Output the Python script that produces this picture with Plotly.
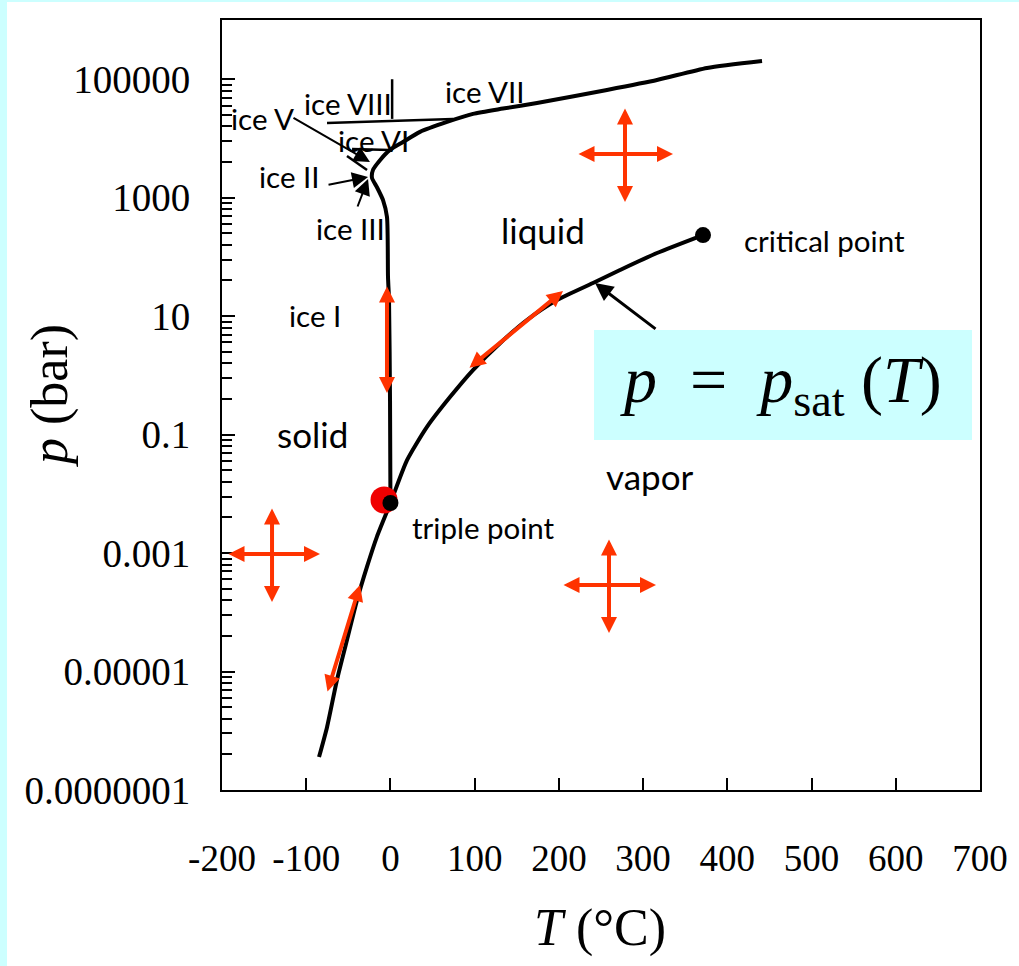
import math
import plotly.graph_objects as go

# ---------------- data (T in °C, p in bar) ----------------
# sublimation + vaporization curve, from its low end to the critical point
sat_T = [-84.8, -75.3, -63.5, -51.6, -39.7, -27.8, -16.0, 0.01, 19.7, 43.4, 70.7,
         98.0, 130.1, 162.1, 197.8, 240.5, 272.6, 316.5, 371.1]
sat_p = [3.6e-7, 1.15e-6, 7.2e-6, 3.4e-5, 1.6e-4, 5.9e-4, 1.9e-3, 0.007, 0.037,
         0.135, 0.43, 1.23, 3.5, 8.6, 18.7, 36.3, 60.1, 116.5, 234]

# melting curve (ice I / liquid, then high-pressure ices / liquid)
melt_T = [0.01, -0.5, -1.7, -2.9, -4.1, -8.8, -16.0, -21.9, -20.7, -12.4, -0.5,
          14.9, 35.1, 67.2, 98.0, 133.6, 174.0, 257.1, 316.5, 375.9, 441.2]
melt_p = [0.007, 0.38, 19, 46, 470, 910, 1500, 2150, 2950, 4300, 6400, 8700,
          12900, 19000, 26000, 32000, 39700, 66000, 97000, 155000, 203000]

# thin boundaries between the high-pressure ice phases
ice_T = [-75.3, 74.3, None, 2.0, 2.0, None, -45.6, -0.5, None, -51.6, -27.8]
ice_p = [18200, 21400, None, 21400, 100000, None, 6640, 6380, None, 5060, 2940]

triple_T, triple_p = [0.01], [0.007]
critical_T, critical_p = [371.1], [234]
marker_T, marker_p = [-7.6], [0.0079]          # red state marker at the triple point

# axis ticks
x_ticks = [-200, -100, 0, 100, 200, 300, 400, 500, 600, 700]
x_tick_text = ["-200", "-100", "0", "100", "200", "300", "400", "500", "600", "700"]
y_ticks = [1e-7, 1e-5, 1e-3, 0.1, 10, 1000, 1e5]
y_tick_text = ["0.0000001", "0.00001", "0.001", "0.1", "10", "1000", "100000"]
minor_decades = [-7, -5, -3, -1, 1, 3]
minor_k = [2, 3, 4, 5, 6, 7, 8, 9]

# region / phase labels: (text, T, p, big)
labels = [
    ("ice VII", 111.1, 60950, False),
    ("ice VIII", -50.4, 38190, False),
    ("ice V", -152.5, 21330, False),
    ("ice VI", -20.7, 9420, False),
    ("ice II", -119.3, 2323, False),
    ("ice III", -48.0, 307.6, False),
    ("ice I", -89.6, 10.07, False),
    ("triple point", 109.9, 0.00275, False),
    ("critical point", 514.8, 185.8, False),
    ("liquid", 181.1, 285, True),
    ("solid", -92.0, 0.102, True),
    ("vapor", 308.2, 0.020, True),
]

# black pointer arrows: (T_tail, p_tail, T_head, p_head, width)
pointer_arrows = [
    (-116.9, 23010, -24.3, 4009, 2),
    (-75.3, 1637, -26.6, 2234, 2),
    (-39.7, 670, -26.6, 2065, 2),
    (316.5, 5.83, 242.9, 36.3, 3),
]

# red double-headed arrows: (T1, p1, T2, p2)
red_arrows = [
    (221.5, 5470, 335.5, 5470), (278.5, 33960, 278.5, 845),
    (-194.1, 9.64e-4, -83.6, 9.64e-4), (-140.6, 6.0e-3, -140.6, 1.49e-4),
    (203.7, 2.89e-4, 315.3, 2.89e-4), (259.5, 1.80e-3, 259.5, 4.48e-5),
    (-4.1, 33.6, -4.1, 0.505),
    (92.1, 1.28, 204.9, 26.6),
    (-75.3, 4.35e-6, -36.1, 2.89e-4),
]

# equation box extent (T range, p range) and text anchor
eq_box_T = [241.7, 690.5]
eq_box_p = [0.0813, 5.83]
eq_text_T, eq_text_p = 463.7, 0.689

# ---------------- styling ----------------
SERIF = "Liberation Serif, Times New Roman, serif"
SANS = "Lato, Calibri, Carlito, sans-serif"
RED = "#FF3300"
CYAN = "#CCFFFF"
W, H = 1019, 966
ML, MR, MT, MB = 222, 39, 20, 176

minor_vals = [k * k * 10 ** d for d in minor_decades for k in minor_k]

fig = go.Figure()

fig.add_trace(go.Scatter(x=ice_T, y=ice_p, mode="lines",
                         line=dict(color="black", width=2.5), hoverinfo="skip",
                         showlegend=False))
fig.add_trace(go.Scatter(x=melt_T, y=melt_p, mode="lines",
                         line=dict(color="black", width=4, shape="spline", smoothing=0.6),
                         showlegend=False))
fig.add_trace(go.Scatter(x=sat_T, y=sat_p, mode="lines",
                         line=dict(color="black", width=4, shape="spline", smoothing=0.6),
                         showlegend=False))
fig.add_trace(go.Scatter(x=marker_T, y=marker_p, mode="markers",
                         marker=dict(color="#F00000", size=27), showlegend=False))
fig.add_trace(go.Scatter(x=triple_T, y=triple_p, mode="markers",
                         marker=dict(color="black", size=16), showlegend=False))
fig.add_trace(go.Scatter(x=critical_T, y=critical_p, mode="markers",
                         marker=dict(color="black", size=16), showlegend=False))

annotations = []
for text, t, p, big in labels:
    annotations.append(dict(x=t, y=math.log10(p), xref="x", yref="y", text=text,
                            showarrow=False, xanchor="center", yanchor="middle",
                            font=dict(family=SANS, size=35 if big else 29.5, color="black")))

for t0, p0, t1, p1, w in pointer_arrows:
    annotations.append(dict(x=t1, y=math.log10(p1), ax=t0, ay=math.log10(p0),
                            xref="x", yref="y", axref="x", ayref="y", text="",
                            showarrow=True, arrowhead=2, arrowsize=1.6 if w == 2 else 1.2,
                            arrowwidth=w, arrowcolor="black", standoff=0, startstandoff=0))

for t0, p0, t1, p1 in red_arrows:
    annotations.append(dict(x=t1, y=math.log10(p1), ax=t0, ay=math.log10(p0),
                            xref="x", yref="y", axref="x", ayref="y", text="",
                            showarrow=True, arrowhead=2, arrowside="end+start",
                            arrowsize=0.8, arrowwidth=4, arrowcolor=RED,
                            standoff=0, startstandoff=0))

sp = "\u00a0"
annotations.append(dict(x=eq_text_T, y=math.log10(eq_text_p), xref="x", yref="y",
                        text=f"<i>p</i>{sp}{sp}={sp}{sp}<i>p</i><sub>sat</sub>{sp}(<i>T</i>)",
                        showarrow=False, xanchor="center", yanchor="middle",
                        font=dict(family=SERIF, size=66, color="black")))

# axis titles
annotations.append(dict(x=(50 - ML) / (W - ML - MR), y=(H - MB - 396) / (H - MT - MB),
                        xref="paper", yref="paper", text="<i>p</i> (bar)", textangle=-90,
                        showarrow=False, xanchor="center", yanchor="middle",
                        font=dict(family=SERIF, size=52, color="black")))
annotations.append(dict(x=(600 - ML) / (W - ML - MR), y=(H - MB - 928) / (H - MT - MB),
                        xref="paper", yref="paper", text="<i>T</i> (°C)",
                        showarrow=False, xanchor="center", yanchor="middle",
                        font=dict(family=SERIF, size=52, color="black")))

shapes = [
    # white page over the cyan background
    dict(type="rect", xref="paper", yref="paper",
         x0=(7 - ML) / (W - ML - MR), x1=1.1, y0=-0.3, y1=(H - MB - 2) / (H - MT - MB),
         fillcolor="white", line=dict(width=0), layer="below"),
    # equation box (shape coordinates use data values on the log axis)
    dict(type="rect", xref="x", yref="y", x0=eq_box_T[0], x1=eq_box_T[1],
         y0=eq_box_p[0], y1=eq_box_p[1],
         fillcolor=CYAN, line=dict(width=0), layer="below"),
]

fig.update_layout(
    width=W, height=H,
    margin=dict(l=ML, r=MR, t=MT, b=MB, pad=0),
    paper_bgcolor=CYAN, plot_bgcolor="white",
    showlegend=False,
    annotations=annotations, shapes=shapes,
    xaxis=dict(range=[-200, 700], tickmode="array", tickvals=x_ticks, ticktext=x_tick_text,
               ticks="inside", ticklen=12, tickwidth=2, tickcolor="black",
               showline=True, linecolor="black", linewidth=2, mirror=True,
               showgrid=False, zeroline=False, ticklabelstandoff=35,
               tickfont=dict(family=SERIF, size=37, color="black")),
    yaxis=dict(type="log", range=[-7, 6], tickmode="array", tickvals=y_ticks,
               ticktext=y_tick_text, ticks="inside", ticklen=13, tickwidth=2,
               tickcolor="black", showline=True, linecolor="black", linewidth=2,
               mirror=True, showgrid=False, zeroline=False, ticklabelstandoff=22,
               tickfont=dict(family=SERIF, size=39, color="black"),
               minor=dict(tickmode="array", tickvals=minor_vals, ticks="inside",
                          ticklen=10, tickwidth=2, tickcolor="black", showgrid=False)),
)

fig.write_html("out.html")
